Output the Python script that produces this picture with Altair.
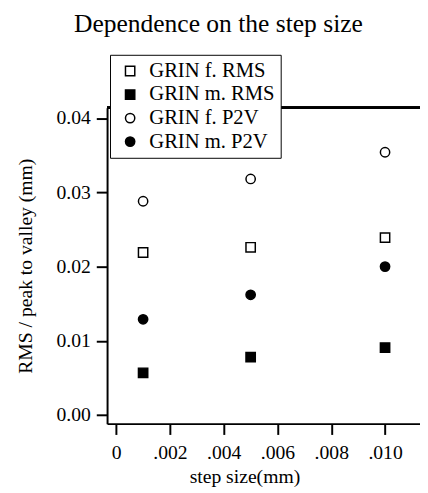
import altair as alt
import pandas as pd

# ---- data ----
steps = [0.001, 0.005, 0.010]
grin_f_rms = [0.0219, 0.0226, 0.0239]
grin_m_rms = [0.0057, 0.0078, 0.0091]
grin_f_p2v = [0.0288, 0.0318, 0.0354]
grin_m_p2v = [0.0129, 0.0162, 0.0200]
series_names = ["GRIN f. RMS", "GRIN m. RMS", "GRIN f. P2V", "GRIN m. P2V"]
series_values = [grin_f_rms, grin_m_rms, grin_f_p2v, grin_m_p2v]
series_shapes = ["square", "square", "circle", "circle"]
series_fills = ["white", "black", "white", "black"]
series_strokes = ["black", "black", "black", "black"]
x_ticks = [0, 0.002, 0.004, 0.006, 0.008, 0.010]
y_ticks = [0.00, 0.01, 0.02, 0.03, 0.04]
x_domain = [-0.00034, 0.01130]
y_domain = [-0.00115, 0.04139]

rows = []
for name, vals in zip(series_names, series_values):
    for s, v in zip(steps, vals):
        rows.append({"step": s, "value": v, "series": name})
df = pd.DataFrame(rows)

FONT = "Liberation Serif"
W, H = 319, 322

legend = alt.Legend(
    title=None, orient="none", legendX=3, legendY=-54,
    fillColor="white", strokeColor="black", padding=6,
    labelFont=FONT, labelFontSize=21, labelColor="black",
    symbolSize=90, symbolStrokeWidth=1.5, symbolStrokeColor="black",
    rowPadding=2, labelOffset=9, symbolOffset=4,
)

points = alt.Chart(df).mark_point(size=90, strokeWidth=1.5, opacity=1).encode(
    x=alt.X("step:Q",
            scale=alt.Scale(domain=x_domain, nice=False, zero=False),
            axis=alt.Axis(values=x_ticks, title="step size(mm)",
                          labelExpr="datum.value == 0 ? '0' : replace(format(datum.value, '.3f'), '0.', '.')",
                          grid=False, domainColor="black", domainWidth=2,
                          tickColor="black", tickWidth=2, tickSize=11,
                          labelPadding=9, labelFont=FONT, labelFontSize=20, labelColor="black",
                          titleFont=FONT, titleFontSize=20, titleFontWeight="normal",
                          titleColor="black", titlePadding=4, titleX=140)),
    y=alt.Y("value:Q",
            scale=alt.Scale(domain=y_domain, nice=False, zero=False),
            axis=alt.Axis(values=y_ticks, format=".2f", title="RMS / peak to valley (mm)",
                          grid=False, domainColor="black", domainWidth=2,
                          tickColor="black", tickWidth=2, tickSize=11,
                          labelPadding=6, labelFont=FONT, labelFontSize=20, labelColor="black",
                          titleFont=FONT, titleFontSize=20, titleFontWeight="normal",
                          titleColor="black", titlePadding=21)),
    shape=alt.Shape("series:N", scale=alt.Scale(domain=series_names, range=series_shapes), legend=legend),
    fill=alt.Fill("series:N", scale=alt.Scale(domain=series_names, range=series_fills), legend=legend),
    stroke=alt.Stroke("series:N", scale=alt.Scale(domain=series_names, range=series_strokes), legend=legend),
)

top_line = alt.Chart(df).mark_rule(color="black", strokeWidth=2).encode(
    y=alt.value(0), x=alt.value(0), x2=alt.value(W)
)

chart = alt.layer(top_line, points).properties(
    width=W, height=H,
    autosize=alt.AutoSizeParams(type="none"),
    padding={"left": 101, "top": 97, "right": 0, "bottom": 66},
    title=alt.TitleParams("Dependence on the step size", font=FONT, fontSize=26,
                          fontWeight="normal", color="black", anchor="middle",
                          frame="group", dx=-46, offset=18),
).configure_view(stroke=None)

chart.save("out.html", embed_options={"renderer": "svg", "actions": False})
